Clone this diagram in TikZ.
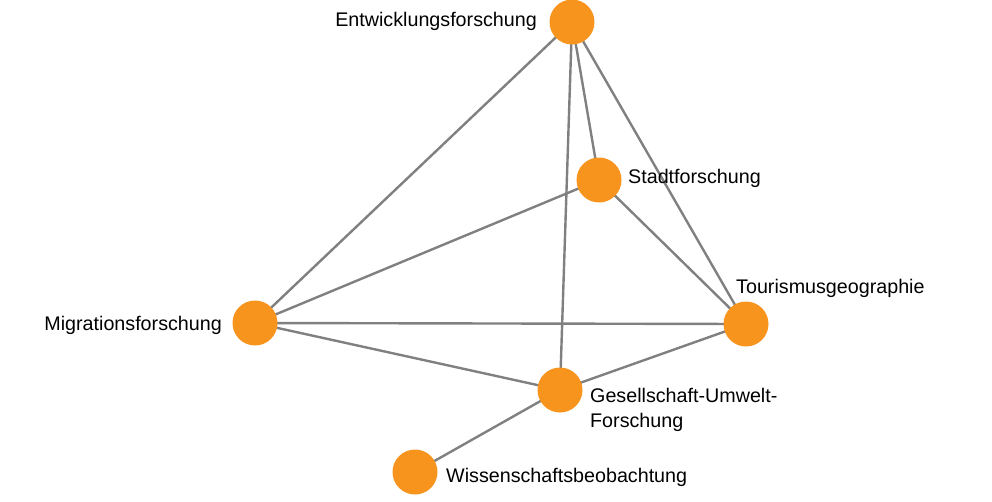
\documentclass[tikz,border=0pt]{standalone}
\usepackage{fontspec}
\setmainfont{Liberation Sans}
\begin{document}
\begin{tikzpicture}[x=1pt,y=-1pt,
  dot/.style={circle,fill={rgb,255:red,247;green,148;blue,29},minimum size=45pt,inner sep=0pt},
  lbl/.style={font=\fontsize{19.7}{25}\selectfont,inner sep=0pt},
  edge/.style={draw={rgb,255:red,128;green,128;blue,128},line width=2.4pt}]
\useasboundingbox (0,0) rectangle (992,501);
\coordinate (E) at (572,22);
\coordinate (S) at (599,180);
\coordinate (M) at (255,323);
\coordinate (T) at (746,324);
\coordinate (G) at (560,390);
\coordinate (W) at (415,472);
\foreach \a/\b in {E/M,E/S,E/T,E/G,S/M,S/T,M/T,M/G,G/T,G/W}
  \draw[edge] (\a) -- (\b);
\foreach \n in {E,S,M,T,G,W} \node[dot] (d\n) at (\n) {};
\node[lbl,anchor=east] (lE) at (537,21) {Entwicklungsforschung};
\node[lbl,anchor=west] (lS) at (628,178) {Stadtforschung};
\node[lbl,anchor=east] (lM) at (222,325) {Migrationsforschung};
\node[lbl,anchor=west] (lT) at (736,288) {Tourismusgeographie};
\node[lbl,anchor=north west,align=left] (lG) at (590,388) {Gesellschaft-Umwelt-\\Forschung};
\node[lbl,anchor=west] (lW) at (446,477) {Wissenschaftsbeobachtung};
\end{tikzpicture}
\end{document}
